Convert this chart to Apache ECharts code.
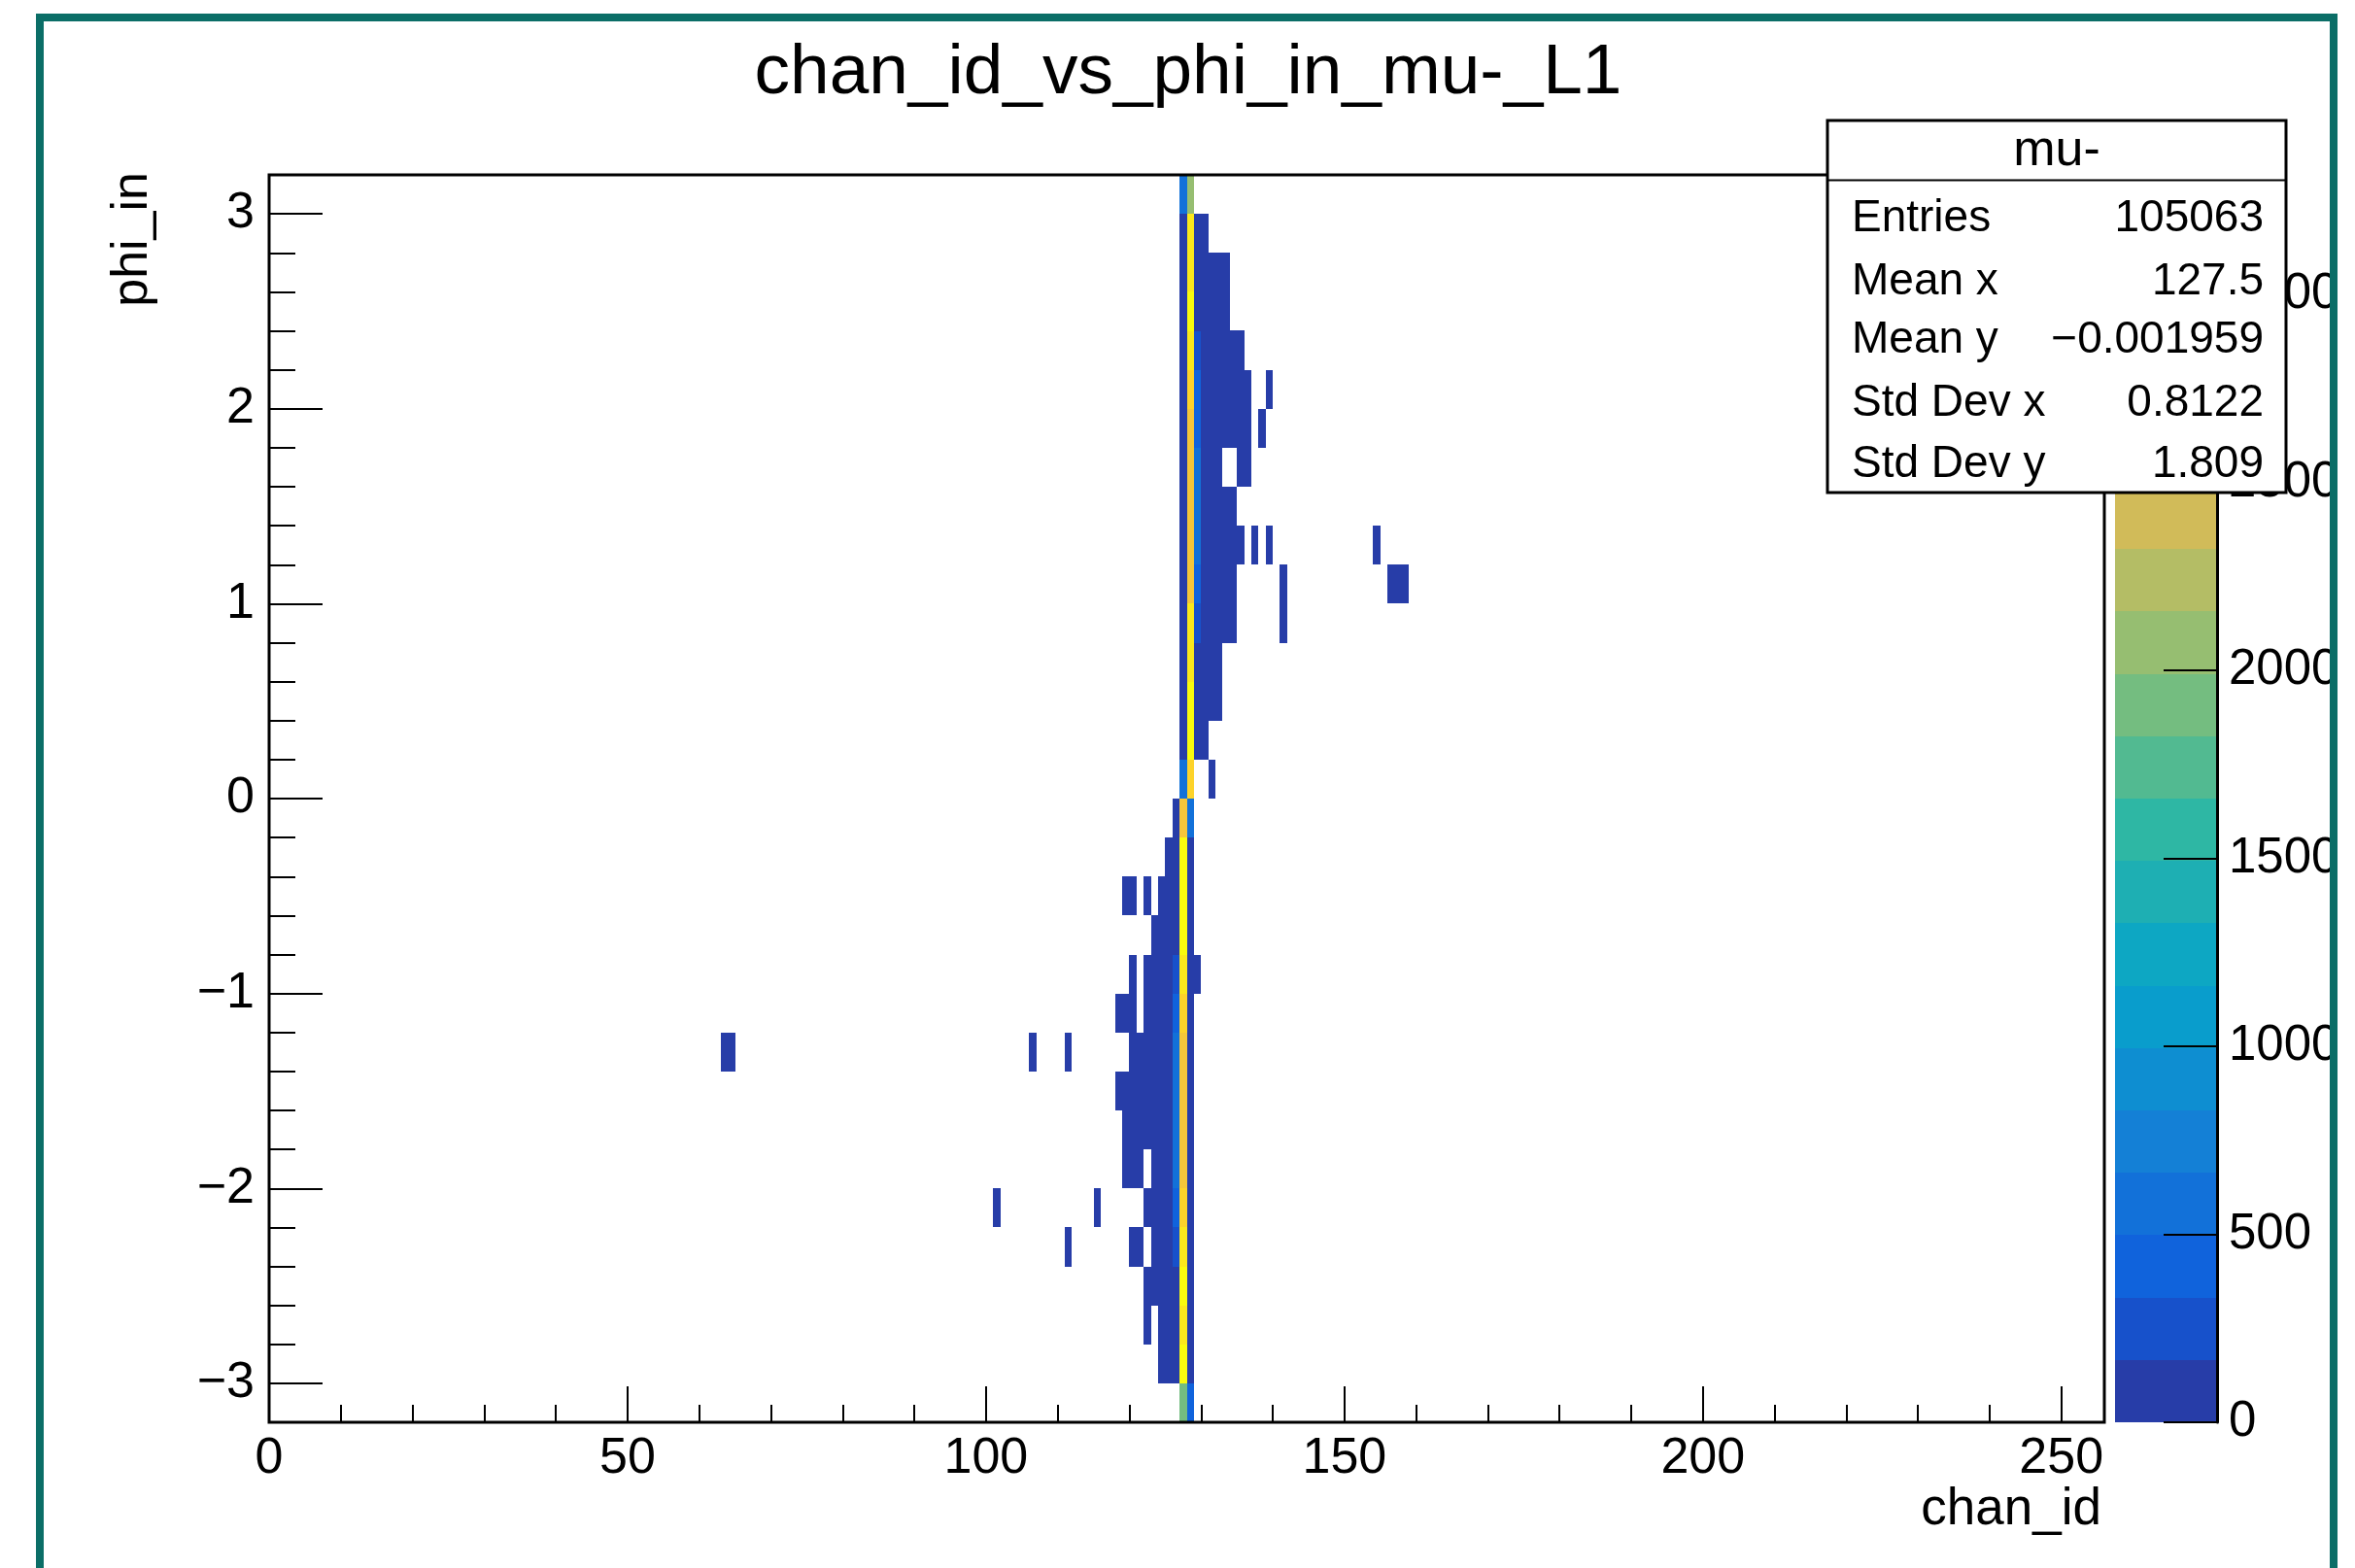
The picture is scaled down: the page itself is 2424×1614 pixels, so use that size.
<!DOCTYPE html>
<html>
<head>
<meta charset="utf-8">
<script src="https://cdn.jsdelivr.net/npm/echarts@6/dist/echarts.min.js"></script>
<style>
html,body{margin:0;padding:0;background:#ffffff;}
#chart{width:2424px;height:1614px;}
</style>
</head>
<body>
<div id="chart"></div>
<script>
// ================= DATA =================
// phi_in bins: lower edges of the 32 bins (width 0.2) from -3.2 to 3.2
const phiBinLow = [-3.2,-3.0,-2.8,-2.6,-2.4,-2.2,-2.0,-1.8,-1.6,-1.4,-1.2,-1.0,-0.8,-0.6,-0.4,-0.2,
                   0.0,0.2,0.4,0.6,0.8,1.0,1.2,1.4,1.6,1.8,2.0,2.2,2.4,2.6,2.8,3.0];
const phiBinWidth = 0.2;
const chanBinWidth = 1;

// counts per chan_id column, index = phi bin (0 = bottom, -3.2..-3.0)
const ch118 = [0,0,0,0,0,0,0,0,3,0,2,0,0,0,0,0,  0,0,0,0,0,0,0,0,0,0,0,0,0,0,0,0];
const ch119 = [0,0,0,0,0,0,3,4,5,0,3,0,0,2,0,0,  0,0,0,0,0,0,0,0,0,0,0,0,0,0,0,0];
const ch120 = [0,0,0,0,2,0,5,7,8,6,4,2,0,3,0,0,  0,0,0,0,0,0,0,0,0,0,0,0,0,0,0,0];
const ch121 = [0,0,0,0,3,0,6,9,10,8,0,0,0,0,0,0, 0,0,0,0,0,0,0,0,0,0,0,0,0,0,0,0];
const ch122 = [0,0,3,6,0,9,0,12,16,14,10,8,0,5,0,0, 0,0,0,0,0,0,0,0,0,0,0,0,0,0,0,0];
const ch123 = [0,0,0,8,11,15,18,22,25,22,18,14,10,0,0,0, 0,0,0,0,0,0,0,0,0,0,0,0,0,0,0,0];
const ch124 = [0,6,10,16,22,28,35,40,42,38,32,25,18,12,0,0, 0,0,0,0,0,0,0,0,0,0,0,0,0,0,0,0];
const ch125 = [0,12,20,30,42,55,68,76,80,72,60,48,35,25,15,0, 0,0,0,0,0,0,0,0,0,0,0,0,0,0,0,0];
const ch126 = [0,50,75,110,250,390,530,580,600,560,430,270,150,105,70,45, 0,0,0,0,0,0,0,0,0,0,0,0,0,0,0,0];
const ch127 = [1910,3200,3080,3210,3050,2900,2740,2700,2690,2760,2880,3030,3250,3318,3190,2760,
               560,70,60,55,50,45,42,40,40,42,45,50,55,60,65,600];
const ch128 = [420,65,60,55,50,48,45,42,40,42,45,48,52,58,62,570,
               2890,3200,3260,3060,3020,2760,2700,2710,2730,2790,2910,3040,3290,3100,3070,2060];
const ch129 = [0,0,0,0,0,0,0,0,0,0,0,3,0,0,0,0,  0,65,100,140,280,440,560,590,550,420,380,240,120,80,50,0];
const ch130 = [0,0,0,0,0,0,0,0,0,0,0,0,0,0,0,0,  0,10,18,28,40,48,55,58,52,50,45,38,25,15,7,0];
const ch131 = [0,0,0,0,0,0,0,0,0,0,0,0,0,0,0,0,  1,0,12,18,28,35,40,42,38,35,30,24,16,9,0,0];
const ch132 = [0,0,0,0,0,0,0,0,0,0,0,0,0,0,0,0,  0,0,6,10,18,22,26,28,24,22,20,15,10,5,0,0];
const ch133 = [0,0,0,0,0,0,0,0,0,0,0,0,0,0,0,0,  0,0,0,0,8,12,14,12,0,11,10,8,5,3,0,0];
const ch134 = [0,0,0,0,0,0,0,0,0,0,0,0,0,0,0,0,  0,0,0,0,4,6,8,6,0,6,5,4,0,0,0,0];
const ch135 = [0,0,0,0,0,0,0,0,0,0,0,0,0,0,0,0,  0,0,0,0,0,0,4,0,3,4,3,2,0,0,0,0];
const ch136 = [0,0,0,0,0,0,0,0,0,0,0,0,0,0,0,0,  0,0,0,0,0,0,0,0,2,2,2,0,0,0,0,0];
const ch137 = [0,0,0,0,0,0,0,0,0,0,0,0,0,0,0,0,  0,0,0,0,0,0,1,0,0,0,0,0,0,0,0,0];
const ch138 = [0,0,0,0,0,0,0,0,0,0,0,0,0,0,0,0,  0,0,0,0,0,0,0,0,0,1,0,0,0,0,0,0];
const ch139 = [0,0,0,0,0,0,0,0,0,0,0,0,0,0,0,0,  0,0,0,0,0,0,1,0,0,0,1,0,0,0,0,0];
const ch141 = [0,0,0,0,0,0,0,0,0,0,0,0,0,0,0,0,  0,0,0,0,1,1,0,0,0,0,0,0,0,0,0,0];
// isolated cells: [chan_id, phi bin index, count]
const isolatedCells = [[63,9,1],[64,9,1],[101,5,1],[106,9,1],[111,9,1],[111,4,1],[115,5,1],
                       [154,22,1],[156,21,1],[157,21,1],[158,21,1]];

// axis ticks / labels
const xMajorTicks = [0,50,100,150,200,250];
const xMinorTicks = [10,20,30,40,60,70,80,90,110,120,130,140,160,170,180,190,210,220,230,240];
const yMajorTicks = [-3,-2,-1,0,1,2,3];
const yMinorTicks = [-3.0,-2.8,-2.6,-2.4,-2.2,-2.0,-1.8,-1.6,-1.4,-1.2,-1.0,-0.8,-0.6,-0.4,-0.2,0,
                     0.2,0.4,0.6,0.8,1.0,1.2,1.4,1.6,1.8,2.0,2.2,2.4,2.6,2.8,3.0];
const zTicks = [0,500,1000,1500,2000,2500,3000];
const zMax = 3318;
const nLevels = 20;

// stats box
const statsTitle = 'mu-';
const statsLabels = ['Entries','Mean x','Mean y','Std Dev x','Std Dev y'];
const statsValues = ['105063','127.5','\u22120.001959','0.8122','1.809'];

const chartTitle = 'chan_id_vs_phi_in_mu-_L1';
const xTitle = 'chan_id';
const yTitle = 'phi_in';

// ================= BUILD =================
const columns = [
  [118,ch118],[119,ch119],[120,ch120],[121,ch121],[122,ch122],[123,ch123],[124,ch124],[125,ch125],
  [126,ch126],[127,ch127],[128,ch128],[129,ch129],[130,ch130],[131,ch131],[132,ch132],[133,ch133],
  [134,ch134],[135,ch135],[136,ch136],[137,ch137],[138,ch138],[139,ch139],[141,ch141]
];
const cells = [];
columns.forEach(([ch, arr]) => {
  arr.forEach((v, j) => { if (v > 0) cells.push([ch, phiBinLow[j], v]); });
});
isolatedCells.forEach(([ch, j, v]) => cells.push([ch, phiBinLow[j], v]));

// ROOT kBird palette
const birdStops = [0, .125, .25, .375, .5, .625, .75, .875, 1];
const birdR = [0.2082, 0.0592, 0.0780, 0.0232, 0.1802, 0.5301, 0.8186, 0.9956, 0.9764];
const birdG = [0.1664, 0.3599, 0.5041, 0.6419, 0.7178, 0.7492, 0.7328, 0.7862, 0.9832];
const birdB = [0.5293, 0.8684, 0.8385, 0.7914, 0.6425, 0.4662, 0.3499, 0.1968, 0.0539];
function bird(t) {
  let s = 0;
  while (s < birdStops.length - 2 && t > birdStops[s + 1]) s++;
  const f = (t - birdStops[s]) / (birdStops[s + 1] - birdStops[s]);
  const c = a => Math.round(255 * (a[s] + (a[s + 1] - a[s]) * f));
  return 'rgb(' + c(birdR) + ',' + c(birdG) + ',' + c(birdB) + ')';
}
const levelStep = zMax / nLevels;
const pieces = [];
const bands = [];
for (let k = 0; k < nLevels; k++) {
  const idx = Math.floor((k + 0.99) * 255 / nLevels);
  const col = bird(Math.min(1, idx / 254));
  const lo = k * levelStep, hi = (k + 1) * levelStep;
  const p = {gte: lo, color: col};
  if (k < nLevels - 1) p.lt = hi; else p.lte = hi;
  pieces.push(p);
  bands.push([lo, hi, (lo + hi) / 2]);
}

const FONT = "'Liberation Sans', Arial, Helvetica, sans-serif";
const minus = v => (v < 0 ? '\u2212' + Math.abs(v) : String(v));

const GL = 277, GT = 180, GW = 1889, GH = 1284;

const chart = echarts.init(document.getElementById('chart'), null, {renderer: 'canvas'});

const statsX = 1881, statsY = 124, statsW = 472, statsH = 383;
const statsRowY = [225, 290, 350, 415, 478];
const graphics = [
  {type: 'text', z: 100, x: 1223, y: 76,
   style: {text: chartTitle, font: '73px ' + FONT, fill: '#000', align: 'center', verticalAlign: 'middle'}},
  {type: 'text', z: 100, x: 2163, y: 1554,
   style: {text: xTitle, font: '53px ' + FONT, fill: '#000', align: 'right', verticalAlign: 'middle'}},
  {type: 'text', z: 100, x: 137, y: 177, rotation: Math.PI / 2,
   style: {text: yTitle, font: '52px ' + FONT, fill: '#000', align: 'right', verticalAlign: 'middle'}},
  {type: 'rect', z: 100, shape: {x: statsX, y: statsY, width: statsW, height: statsH},
   style: {fill: '#fff', stroke: '#000', lineWidth: 3}},
  {type: 'line', z: 101, shape: {x1: statsX, y1: 185.5, x2: statsX + statsW, y2: 185.5},
   style: {stroke: '#000', lineWidth: 2}},
  {type: 'text', z: 101, x: statsX + statsW / 2, y: 156,
   style: {text: statsTitle, font: '52px ' + FONT, fill: '#000', align: 'center', verticalAlign: 'middle'}}
];
statsLabels.forEach((lab, i) => {
  graphics.push({type: 'text', z: 101, x: 1906, y: statsRowY[i],
    style: {text: lab, font: '46px ' + FONT, fill: '#000', align: 'left', verticalAlign: 'middle'}});
  graphics.push({type: 'text', z: 101, x: 2330, y: statsRowY[i],
    style: {text: statsValues[i], font: '46px ' + FONT, fill: '#000', align: 'right', verticalAlign: 'middle'}});
});
// canvas edge (clip) and teal canvas border
graphics.push({type: 'rect', z: 110, shape: {x: 2402, y: 0, width: 30, height: 1614}, style: {fill: '#fff'}});
graphics.push({type: 'rect', z: 111, shape: {x: 41, y: 18, width: 2361, height: 1700},
  style: {fill: 'none', stroke: '#0b6e67', lineWidth: 8}});

const tickStyle = {color: '#000', width: 2};

chart.setOption({
  animation: false,
  backgroundColor: '#ffffff',
  grid: [
    {left: GL, top: GT, width: GW, height: GH, show: true, borderColor: '#000', borderWidth: 3,
     backgroundColor: 'transparent', z: 10},
    {left: 2177, top: GT, width: 105, height: GH, show: false}
  ],
  xAxis: [
    {type: 'value', gridIndex: 0, min: 0, max: 256, position: 'bottom', z: 10,
     axisLine: {show: false, onZero: false},
     splitLine: {show: false},
     axisTick: {show: true, inside: true, length: 37, lineStyle: tickStyle, customValues: xMajorTicks},
     axisLabel: {show: true, customValues: xMajorTicks, fontSize: 52, fontFamily: FONT, color: '#000', margin: 12}},
    {type: 'value', gridIndex: 0, min: 0, max: 256, position: 'bottom', z: 10,
     axisLine: {show: false, onZero: false},
     splitLine: {show: false},
     axisTick: {show: true, inside: true, length: 18, lineStyle: tickStyle, customValues: xMinorTicks},
     axisLabel: {show: false}},
    {type: 'value', gridIndex: 1, min: 0, max: 1, show: false, axisLine: {onZero: false}}
  ],
  yAxis: [
    {type: 'value', gridIndex: 0, min: -3.2, max: 3.2, position: 'left', z: 10,
     axisLine: {show: false, onZero: false},
     splitLine: {show: false},
     axisTick: {show: true, inside: true, length: 55, lineStyle: tickStyle, customValues: yMajorTicks},
     axisLabel: {show: true, customValues: yMajorTicks, formatter: minus, fontSize: 52, fontFamily: FONT,
                 color: '#000', margin: 15}},
    {type: 'value', gridIndex: 0, min: -3.2, max: 3.2, position: 'left', z: 10,
     axisLine: {show: false, onZero: false},
     splitLine: {show: false},
     axisTick: {show: true, inside: true, length: 27, lineStyle: tickStyle, customValues: yMinorTicks},
     axisLabel: {show: false}},
    {type: 'value', gridIndex: 1, min: 0, max: zMax, position: 'right', z: 10,
     axisLine: {show: true, onZero: false, lineStyle: {color: '#000', width: 3}},
     splitLine: {show: false},
     axisTick: {show: true, inside: true, length: 55, lineStyle: tickStyle, customValues: zTicks},
     axisLabel: {show: true, customValues: zTicks, formatter: v => String(v), fontSize: 51, fontFamily: FONT,
                 color: '#000', margin: 12}}
  ],
  visualMap: [{
    type: 'piecewise', show: false, dimension: 2, seriesIndex: [0, 1], pieces: pieces
  }],
  series: [
    {
      type: 'custom', xAxisIndex: 0, yAxisIndex: 0, data: cells, encode: {x: 0, y: 1}, clip: false, z: 2,
      renderItem: function (params, api) {
        const p0 = api.coord([api.value(0), api.value(1) + phiBinWidth]);
        const p1 = api.coord([api.value(0) + chanBinWidth, api.value(1)]);
        const x0 = Math.round(p0[0]), y0 = Math.round(p0[1]);
        const x1 = Math.round(p1[0]), y1 = Math.round(p1[1]);
        return {type: 'rect', shape: {x: x0, y: y0, width: x1 - x0, height: y1 - y0},
                style: {fill: api.visual('color')}};
      }
    },
    {
      type: 'custom', xAxisIndex: 2, yAxisIndex: 2, data: bands, encode: {y: [0, 1]}, clip: false, z: 2,
      renderItem: function (params, api) {
        const p0 = api.coord([0, api.value(1)]);
        const p1 = api.coord([1, api.value(0)]);
        const y0 = Math.round(p0[1]), y1 = Math.round(p1[1]);
        return {type: 'rect', shape: {x: p0[0], y: y0, width: p1[0] - p0[0], height: y1 - y0},
                style: {fill: api.visual('color')}};
      }
    }
  ],
  graphic: graphics
});
</script>
</body>
</html>
